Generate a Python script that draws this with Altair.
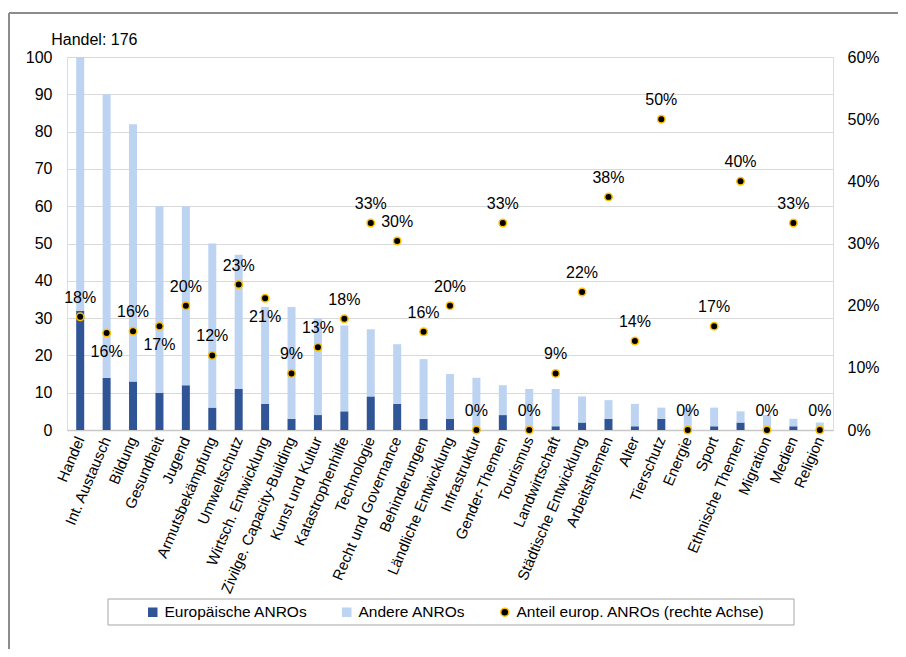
import altair as alt
import pandas as pd

kategorien = ["Handel", "Int. Austausch", "Bildung", "Gesundheit", "Jugend",
              "Armutsbekämpfung", "Umweltschutz", "Wirtsch. Entwicklung",
              "Zivilge. Capacity-Building", "Kunst und Kultur", "Katastrophenhilfe",
              "Technologie", "Recht und Governance", "Behinderungen",
              "Ländliche Entwicklung", "Infrastruktur", "Gender-Themen", "Tourismus",
              "Landwirtschaft", "Städtische Entwicklung", "Arbeitsthemen", "Alter",
              "Tierschutz", "Energie", "Sport", "Ethnische Themen", "Migration",
              "Medien", "Religion"]
europaeisch = [32, 14, 13, 10, 12, 6, 11, 7, 3, 4, 5, 9, 7, 3, 3, 0, 4, 0, 1, 2, 3, 1, 3, 0, 1, 2, 0, 1, 0]
gesamt = [176, 90, 82, 60, 60, 50, 47, 33, 33, 30, 28, 27, 23, 19, 15, 14, 12, 11, 11, 9, 8, 7, 6, 6, 6, 5, 4, 3, 2]
anteil = [0.182, 0.156, 0.159, 0.167, 0.200, 0.120, 0.234, 0.212, 0.091, 0.133, 0.179,
          0.333, 0.304, 0.158, 0.200, 0.000, 0.333, 0.000, 0.091, 0.222, 0.375, 0.143,
          0.500, 0.000, 0.167, 0.400, 0.000, 0.333, 0.000]
serien = ["Europäische ANROs", "Andere ANROs", "Anteil europ. ANROs (rechte Achse)"]
links_ticks = [0, 10, 20, 30, 40, 50, 60, 70, 80, 90, 100]
rechts_ticks = [0.0, 0.1, 0.2, 0.3, 0.4, 0.5, 0.6]

# labels that sit below their point in the original
labels_unten = {"Int. Austausch", "Gesundheit", "Wirtsch. Entwicklung"}

FONT = "Liberation Sans"
DARK = "#2F5597"
LIGHT = "#BDD3F2"
GOLD = "#FFC000"
TXT = "#000000"

rows = []
for k, e, g in zip(kategorien, europaeisch, gesamt):
    rows.append({"Kategorie": k, "Serie": serien[0], "Wert": e, "ord": 0})
    rows.append({"Kategorie": k, "Serie": serien[1], "Wert": g - e, "ord": 1})
bars_df = pd.DataFrame(rows)

pts_df = pd.DataFrame({"Kategorie": kategorien, "Anteil": anteil, "Serie": serien[2]})
pts_df["unten"] = pts_df["Kategorie"].isin(labels_unten)

handel_df = pd.DataFrame({"Kategorie": [kategorien[0]], "Wert": [100],
                          "label": [f"{kategorien[0]}: {gesamt[0]}"]})
one = pd.DataFrame({"a": [0]})

x_enc = alt.X("Kategorie:N", sort=kategorien,
              scale=alt.Scale(paddingInner=0, paddingOuter=0),
              axis=alt.Axis(title=None, labelAngle=-67, labelAlign="right",
                            labelBaseline="middle", labelFontSize=15, labelFont=FONT,
                            labelPadding=7, labelColor=TXT, domainColor="#c8c8c8",
                            domainWidth=1.5, ticks=False, grid=False, labelLimit=400))

leg = alt.Legend(title=None, orient="none", legendX=78, legendY=547,
                 direction="horizontal", labelFontSize=15.5, labelFont=FONT,
                 labelColor=TXT, symbolSize=64, columnPadding=31, labelOffset=4,
                 padding=0, symbolStrokeWidth=1.5, labelLimit=400)
color_scale = alt.Scale(domain=serien, range=[DARK, LIGHT, "#000000"])
stroke_scale = alt.Scale(domain=serien, range=[DARK, LIGHT, GOLD])
shape_scale = alt.Scale(domain=serien, range=["square", "square", "circle"])

left_axis = alt.Axis(title=None, values=links_ticks, grid=True, gridColor="#d9d9d9",
                     domain=False, ticks=False, labelFontSize=16, labelFont=FONT,
                     labelPadding=15, labelColor=TXT, labelOverlap=False)
left_scale = alt.Scale(domain=[0, 100])

bars = alt.Chart(bars_df).mark_bar(size=8, clip=True, strokeWidth=0).encode(
    x=x_enc,
    y=alt.Y("Wert:Q", stack="zero", scale=left_scale, axis=left_axis),
    color=alt.Color("Serie:N", scale=color_scale, legend=leg),
    stroke=alt.Stroke("Serie:N", scale=stroke_scale, legend=leg),
    order=alt.Order("ord:Q"),
)

handel_txt = alt.Chart(handel_df).mark_text(
    align="left", baseline="middle", dx=-29, dy=-17, fontSize=16, font=FONT, color=TXT
).encode(x=x_enc, y=alt.Y("Wert:Q", scale=left_scale, axis=left_axis), text="label:N")

left_group = alt.layer(bars, handel_txt)

y_right = alt.Y("Anteil:Q", scale=alt.Scale(domain=[0, 0.6]),
                axis=alt.Axis(title=None, orient="right", values=rechts_ticks,
                              format=".0%", grid=False, domain=False, ticks=False,
                              labelFontSize=16, labelFont=FONT, labelPadding=14,
                              labelColor=TXT, labelOverlap=False))

points = alt.Chart(pts_df).mark_point(filled=True, size=56, strokeWidth=1.5, opacity=1).encode(
    x=x_enc,
    y=y_right,
    color=alt.Color("Serie:N", scale=color_scale, legend=leg),
    stroke=alt.Stroke("Serie:N", scale=stroke_scale, legend=leg),
    shape=alt.Shape("Serie:N", scale=shape_scale, legend=leg),
)

lab_oben = alt.Chart(pts_df).transform_filter("!datum.unten").mark_text(
    dy=-19, fontSize=16, font=FONT, color=TXT, baseline="middle"
).encode(x=x_enc, y=y_right, text=alt.Text("Anteil:Q", format=".0%"))

lab_unten = alt.Chart(pts_df).transform_filter("datum.unten").mark_text(
    dy=19, fontSize=16, font=FONT, color=TXT, baseline="middle"
).encode(x=x_enc, y=y_right, text=alt.Text("Anteil:Q", format=".0%"))

right_group = alt.layer(points, lab_oben, lab_unten)

frame_left = alt.Chart(one).mark_rule(color="#8c8c8c", strokeWidth=2).encode(
    x=alt.value(-58), y=alt.value(-44), y2=alt.value(700))
frame_top = alt.Chart(one).mark_rule(color="#8c8c8c", strokeWidth=2).encode(
    x=alt.value(-58), x2=alt.value(900), y=alt.value(-44))
legend_box = alt.Chart(one).mark_rect(fillOpacity=0, stroke="#a6a6a6", strokeWidth=1).encode(
    x=alt.value(41), x2=alt.value(727), y=alt.value(542), y2=alt.value(568))

chart = alt.layer(left_group, right_group, frame_left, frame_top, legend_box).resolve_scale(
    y="independent"
).properties(
    width=766, height=373,
    autosize=alt.AutoSizeParams(type="none"),
    padding={"left": 59, "top": 49, "right": 65, "bottom": 219},
    background="white",
).configure_view(stroke=None).configure(font=FONT)

chart.save("out.html", embed_options={"renderer": "svg", "actions": False})
